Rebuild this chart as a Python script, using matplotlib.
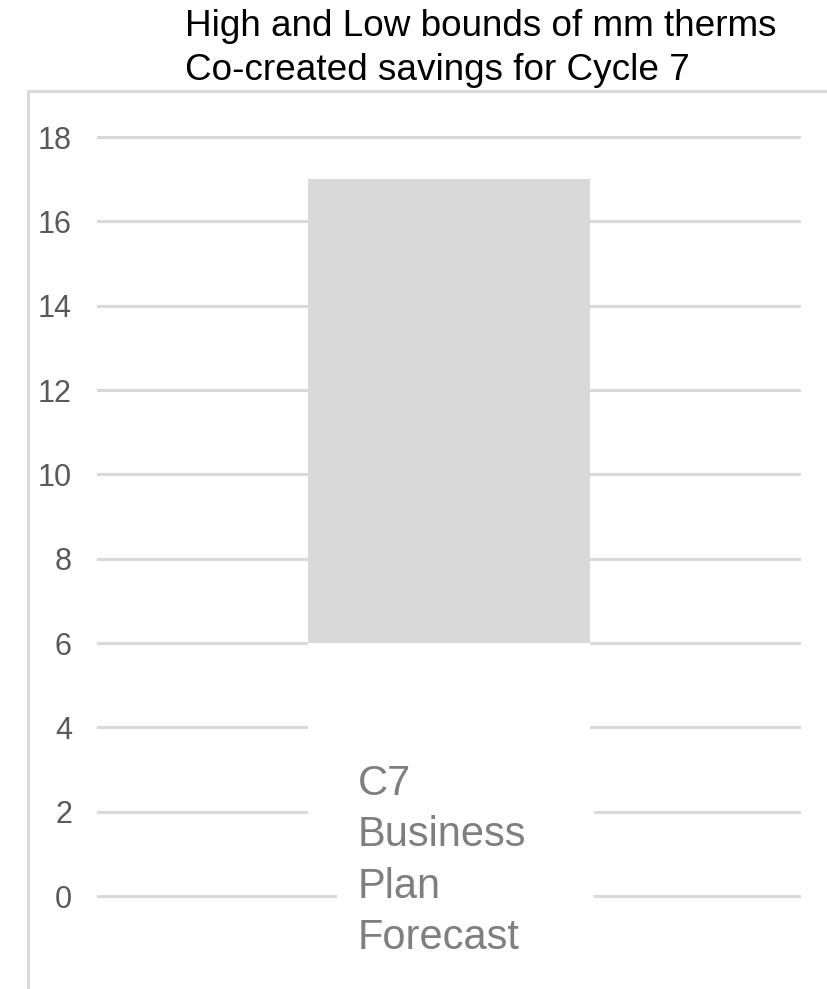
import matplotlib
matplotlib.use('Agg')
from matplotlib import pyplot as plt
from matplotlib.patches import Rectangle

# Floating bar: invisible base + visible range
categories = ['C7\nBusiness\nPlan\nForecast']
low_bound = [6]
high_bound = [17]
y_ticks = [0, 2, 4, 6, 8, 10, 12, 14, 16, 18]

title = 'High and Low bounds of mm therms\nCo-created savings for Cycle 7'

W, H = 828, 989
GRID = '#d9d9d9'

fig = plt.figure(figsize=(W / 100, H / 100), dpi=100)

# axes placed by pixel measurements (0 at y=896px, 18 at y=137px)
unit = (896 - 137) / 18
ymin, ymax = -0.3, 18.3
y_bot = 896 - ymin * unit
y_top = 137 - (ymax - 18) * unit
ax = fig.add_axes([97 / W, (H - y_bot) / H, (801 - 97) / W, (y_bot - y_top) / H])

xs = list(range(len(categories)))
span = [h - l for h, l in zip(high_bound, low_bound)]
ax.bar(xs, low_bound, width=0.4, color='white', zorder=2)
ax.bar(xs, span, bottom=low_bound, width=0.4, color=GRID, zorder=2)

ax.set_xlim(-0.5, 0.5)
ax.set_ylim(ymin, ymax)
ax.set_yticks(y_ticks)
ax.set_yticklabels([str(t) for t in y_ticks], family=['Liberation Sans Narrow', 'Liberation Sans'],
                   fontsize=22, color='#595959')
ax.tick_params(axis='y', length=0, pad=18)
ax.set_xticks([])
ax.grid(axis='y', color=GRID, linewidth=2.2, zorder=0)
ax.set_axisbelow(True)
ax.axhline(0, color=GRID, linewidth=2.2, zorder=2.5)
for s in ax.spines.values():
    s.set_visible(False)

# category label sits on a white box that hides the gridlines
ax.add_patch(Rectangle((0.341, -0.2), 0.365, 0.37, transform=ax.transAxes,
                       facecolor='white', edgecolor='none', zorder=3, clip_on=False))
fig.text(358 / W, (H - 764) / H, categories[0], family='Liberation Sans', fontsize=30,
         color='#7f7f7f', va='top', ha='left', linespacing=1.37, zorder=4)

fig.text(185 / W, (H - 9) / H, title, family='Liberation Sans', fontsize=26.6,
         color='black', va='top', ha='left', linespacing=1.32)

# chart area border (runs off the right and bottom edges)
fig.add_artist(Rectangle((28 / W, -0.1), 2, (H - 91) / H + 0.1, transform=fig.transFigure,
                         fill=False, edgecolor=GRID, linewidth=2.2))

fig.savefig('out.png', dpi=100)
